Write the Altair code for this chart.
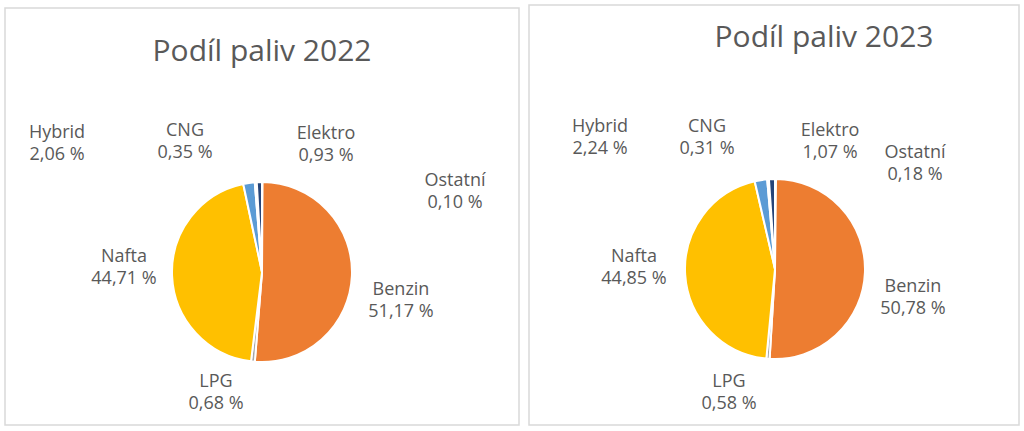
import altair as alt
import pandas as pd

# ---- data ----
fuels = ["Ostatní", "Benzin", "LPG", "Nafta", "Hybrid", "CNG", "Elektro"]
share_2022 = [0.10, 51.17, 0.68, 44.71, 2.06, 0.35, 0.93]
share_2023 = [0.18, 50.78, 0.58, 44.85, 2.24, 0.31, 1.07]
years = ["2022", "2023"]
colors = ["#4472C4", "#ED7D31", "#A5A5A5", "#FFC000", "#5B9BD5", "#70AD47", "#264478"]

# ---- layout (pixels) ----
panels = {"2022": dict(x=5, y=8, x2=519, y2=425, cx=262, cy=272, tx=262, ty=52),
          "2023": dict(x=529, y=5, x2=1019, y2=425, cx=775, cy=269, tx=824, ty=38)}
radius = 90
label_pos = {
    "2022": {"Hybrid": (57, 133), "CNG": (185, 131), "Elektro": (326, 134), "Ostatní": (455, 181),
             "Nafta": (124, 257), "Benzin": (401, 290), "LPG": (216, 382)},
    "2023": {"Hybrid": (600, 127), "CNG": (707, 127), "Elektro": (830, 131), "Ostatní": (915, 153),
             "Nafta": (634, 257), "Benzin": (913, 287), "LPG": (729, 382)},
}

def fmt(v):
    return f"{v:.2f}".replace(".", ",") + " %"

rows, lrows = [], []
for yr, vals in zip(years, [share_2022, share_2023]):
    for i, (f, v) in enumerate(zip(fuels, vals)):
        rows.append(dict(year=yr, fuel=f, share=v, order=i))
        lx, ly = label_pos[yr][f]
        lrows.append(dict(year=yr, fuel=f, text=f + "\n" + fmt(v), lx=lx, ly=ly))
df = pd.DataFrame(rows)
ldf = pd.DataFrame(lrows)

W, H = 1024, 431
color_scale = alt.Scale(domain=fuels, range=colors)
font = "Open Sans"
txt_color = "#595959"

layers = []
for yr in years:
    p = panels[yr]
    border = alt.Chart(pd.DataFrame({"a": [0]})).mark_rect(
        fill="white", stroke="#D9D9D9", strokeWidth=1.5
    ).encode(x=alt.value(p["x"]), x2=alt.value(p["x2"]), y=alt.value(p["y"]), y2=alt.value(p["y2"]))
    title = alt.Chart(pd.DataFrame({"t": [f"Podíl paliv {yr}"]})).mark_text(
        font=font, fontSize=30, color=txt_color, baseline="middle", align="center"
    ).encode(text="t:N", x=alt.value(p["tx"]), y=alt.value(p["ty"]))
    pie = alt.Chart(df[df.year == yr]).mark_arc(
        outerRadius=radius, stroke="white", strokeWidth=2
    ).encode(
        theta=alt.Theta("share:Q", stack=True),
        order=alt.Order("order:Q"),
        color=alt.Color("fuel:N", scale=color_scale, legend=None),
        x=alt.value(p["cx"]), y=alt.value(p["cy"]),
    )
    labels = alt.Chart(ldf[ldf.year == yr]).mark_text(
        font=font, fontSize=18, color=txt_color, lineBreak="\n", lineHeight=22,
        align="center", baseline="middle"
    ).encode(
        text="text:N",
        x=alt.X("lx:Q", scale=alt.Scale(domain=[0, W], range=[0, W]), axis=None),
        y=alt.Y("ly:Q", scale=alt.Scale(domain=[0, H], range=[0, H]), axis=None),
    )
    layers += [border, title, pie, labels]

chart = alt.layer(*layers).properties(
    width=W, height=H, padding=0, autosize=alt.AutoSizeParams(type="none"), background="white"
).configure_view(stroke=None).resolve_scale(theta="independent")

chart.save("out.html", embed_options={"renderer": "svg", "actions": False})
